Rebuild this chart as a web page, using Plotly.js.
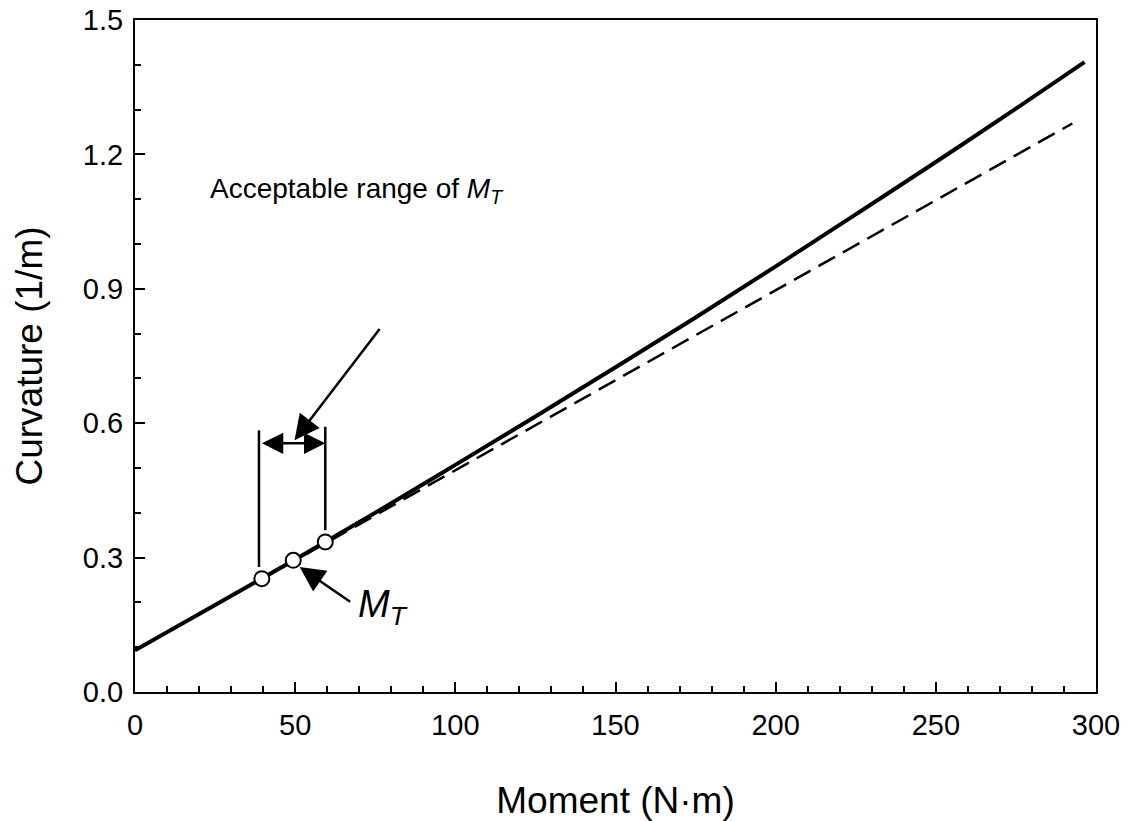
<!DOCTYPE html>
<html>
<head>
<meta charset="utf-8">
<script src="https://cdn.plot.ly/plotly-3.0.1.min.js"></script>
<style>html,body{margin:0;padding:0;background:#fff;}#chart{width:1139px;height:821px;}</style>
</head>
<body>
<div id="chart"></div>
<script>
// Solid curve (measured curvature)
const momentSolid = [0, 25, 50, 75, 100, 125, 150, 175, 200, 225, 250, 275, 296.4];
const curvSolid   = [0.093, 0.194, 0.296, 0.400, 0.507, 0.615, 0.725, 0.836, 0.950, 1.066, 1.183, 1.302, 1.406];
// Dashed straight line
const momentDashed = [0, 292.6];
const curvDashed   = [0.093, 1.269];
// Circles (range bounds and M_T)
const momentPts = [39.6, 49.4, 59.4];
const curvPts   = [0.253, 0.294, 0.335];
// Vertical bracket lines of the acceptable range
const bracketLeftX  = [38.7, 38.7];
const bracketLeftY  = [0.279, 0.584];
const bracketRightX = [59.4, 59.4];
const bracketRightY = [0.361, 0.592];
// Double arrow between brackets
const rangeArrowX = [38.7, 59.4];
const rangeArrowY = 0.555;
// Pointer arrows: [tipX, tipY, tailX, tailY]
const rangePointer = [49.8, 0.562, 77.3, 0.819];
const mtPointer    = [51.4, 0.279, 68.1, 0.197];
// Label positions
const rangeLabelPos = [69.4, 1.12];
const mtLabelPos    = [77.5, 0.19];
const xTicks = [0, 50, 100, 150, 200, 250, 300];
const yTicks = [0.0, 0.3, 0.6, 0.9, 1.2, 1.5];

const FONT = 'Liberation Sans, Arial, Helvetica, sans-serif';

const traces = [
  {x: momentDashed, y: curvDashed, mode: 'lines', line: {color: '#000', width: 2.5, dash: '19px,9px'}, hoverinfo: 'skip', showlegend: false},
  {x: momentSolid, y: curvSolid, mode: 'lines', line: {color: '#000', width: 4, shape: 'spline'}, showlegend: false},
  {x: bracketLeftX, y: bracketLeftY, mode: 'lines', line: {color: '#000', width: 2.5}, showlegend: false},
  {x: bracketRightX, y: bracketRightY, mode: 'lines', line: {color: '#000', width: 2.5}, showlegend: false},
  {x: momentPts, y: curvPts, mode: 'markers', marker: {size: 15, color: '#fff', line: {color: '#000', width: 2}}, showlegend: false}
];

const annotations = [
  {x: rangeArrowX[1], y: rangeArrowY, ax: rangeArrowX[0], ay: rangeArrowY, xref: 'x', yref: 'y', axref: 'x', ayref: 'y',
   text: ' ', showarrow: true, arrowhead: 2, startarrowhead: 2, arrowside: 'end+start', arrowsize: 1.7, startarrowsize: 1.7, arrowwidth: 2.5, arrowcolor: '#000', standoff: 0, startstandoff: 0},
  {x: rangePointer[0], y: rangePointer[1], ax: rangePointer[2], ay: rangePointer[3], xref: 'x', yref: 'y', axref: 'x', ayref: 'y',
   text: ' ', showarrow: true, arrowhead: 2, arrowsize: 2, arrowwidth: 2.5, arrowcolor: '#000', standoff: 0},
  {x: mtPointer[0], y: mtPointer[1], ax: mtPointer[2], ay: mtPointer[3], xref: 'x', yref: 'y', axref: 'x', ayref: 'y',
   text: ' ', showarrow: true, arrowhead: 2, arrowsize: 2, arrowwidth: 2.5, arrowcolor: '#000', standoff: 0},
  {x: rangeLabelPos[0], y: rangeLabelPos[1], xref: 'x', yref: 'y', showarrow: false, xanchor: 'center', yanchor: 'middle',
   text: 'Acceptable range of <i>M</i><sub><i>T</i></sub>', font: {family: FONT, size: 28, color: '#000'}},
  {x: mtLabelPos[0], y: mtLabelPos[1], xref: 'x', yref: 'y', showarrow: false, xanchor: 'center', yanchor: 'middle',
   text: '<i>M</i><sub><i>T</i></sub>', font: {family: FONT, size: 38, color: '#000'}}
];

const axisCommon = {
  showline: true, linecolor: '#000', linewidth: 2, mirror: true,
  ticks: 'inside', ticklen: 10, tickwidth: 2, tickcolor: '#000',
  showgrid: false, zeroline: false,
  tickfont: {family: FONT, size: 29, color: '#000'}
};

const layout = {
  width: 1139, height: 821,
  margin: {l: 135, r: 43, t: 20, b: 129, pad: 0},
  paper_bgcolor: '#fff', plot_bgcolor: '#fff',
  font: {family: FONT, color: '#000'},
  xaxis: Object.assign({}, axisCommon, {
    range: [0, 300], tickvals: xTicks, ticktext: xTicks.map(String),
    minor: {dtick: 10, ticklen: 6, tickwidth: 2, tickcolor: '#000', ticks: 'inside', showgrid: false},
    ticklabelstandoff: 6,
    title: {text: 'Moment (N·m)', font: {family: FONT, size: 37, color: '#000'}, standoff: 47}
  }),
  yaxis: Object.assign({}, axisCommon, {
    range: [0, 1.5], tickvals: yTicks, ticktext: yTicks.map(v => v.toFixed(1)),
    minor: {dtick: 0.1, ticklen: 6, tickwidth: 2, tickcolor: '#000', ticks: 'inside', showgrid: false},
    ticklabelstandoff: 4,
    title: {text: 'Curvature (1/m)', font: {family: FONT, size: 37, color: '#000'}, standoff: 29}
  }),
  annotations: annotations,
  showlegend: false
};

Plotly.newPlot('chart', traces, layout, {displayModeBar: false, staticPlot: true});
</script>
</body>
</html>
